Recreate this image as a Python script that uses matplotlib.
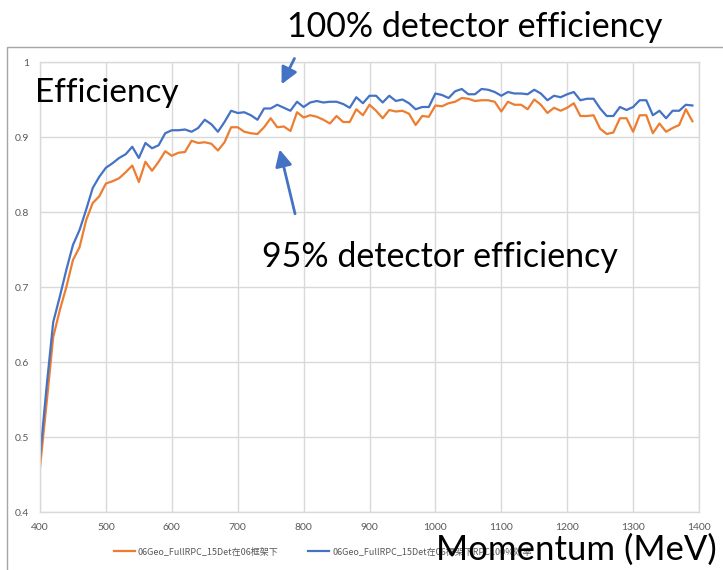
import matplotlib

matplotlib.use("Agg")
import matplotlib.pyplot as plt
import numpy as np
from matplotlib.lines import Line2D
from matplotlib.patches import Rectangle

W, H = 723, 570

momentum = np.arange(400, 1400, 10)

eff_100 = [
    0.473, 0.567, 0.653, 0.687, 0.723, 0.756, 0.776, 0.803, 0.832, 0.847,
    0.859, 0.865, 0.872, 0.877, 0.887, 0.872, 0.892, 0.885, 0.889, 0.905,
    0.909, 0.909, 0.910, 0.907, 0.912, 0.923, 0.917, 0.907, 0.920, 0.935,
    0.932, 0.933, 0.929, 0.923, 0.938, 0.938, 0.943, 0.939, 0.935, 0.947,
    0.940, 0.946, 0.948, 0.946, 0.947, 0.947, 0.944, 0.939, 0.953, 0.945,
    0.955, 0.955, 0.946, 0.955, 0.948, 0.950, 0.945, 0.937, 0.940, 0.940,
    0.958, 0.956, 0.952, 0.961, 0.964, 0.957, 0.957, 0.964, 0.963, 0.960,
    0.955, 0.960, 0.958, 0.958, 0.957, 0.963, 0.958, 0.949, 0.955, 0.953,
    0.957, 0.960, 0.949, 0.951, 0.951, 0.938, 0.928, 0.928, 0.940, 0.936,
    0.940, 0.949, 0.949, 0.929, 0.935, 0.925, 0.935, 0.935, 0.943, 0.942,
]

eff_95 = [
    0.459, 0.545, 0.633, 0.669, 0.700, 0.736, 0.753, 0.789, 0.812, 0.821,
    0.838, 0.841, 0.845, 0.853, 0.862, 0.840, 0.867, 0.855, 0.867, 0.881,
    0.875, 0.879, 0.880, 0.895, 0.892, 0.893, 0.891, 0.882, 0.893, 0.913,
    0.913, 0.907, 0.905, 0.904, 0.913, 0.925, 0.913, 0.914, 0.908, 0.933,
    0.926, 0.929, 0.927, 0.923, 0.918, 0.928, 0.920, 0.920, 0.937, 0.929,
    0.943, 0.935, 0.925, 0.936, 0.934, 0.935, 0.931, 0.916, 0.928, 0.927,
    0.942, 0.941, 0.945, 0.947, 0.952, 0.951, 0.948, 0.949, 0.949, 0.947,
    0.934, 0.947, 0.943, 0.943, 0.937, 0.950, 0.943, 0.932, 0.939, 0.935,
    0.939, 0.945, 0.928, 0.928, 0.929, 0.911, 0.904, 0.906, 0.925, 0.925,
    0.907, 0.929, 0.929, 0.905, 0.918, 0.907, 0.912, 0.916, 0.937, 0.921,
]

label_95 = "06Geo_FullRPC_15Det在06框架下"
label_100 = "06Geo_FullRPC_15Det在06框架下RPC100%效率"

ORANGE = "#ED7D31"
BLUE = "#4472C4"
GRID = "#D9D9D9"
TICK = "#595959"
BIG_FONT = ["Lato", "DejaVu Sans"]
CJK_FONT = ["Noto Sans CJK SC", "DejaVu Sans"]


def fx(px):
    return px / W


def fy(py):
    return 1 - py / H


fig = plt.figure(figsize=(W / 100, H / 100), dpi=100)
fig.patch.set_facecolor("white")

# chart area border (runs off the right/bottom edge like the screenshot)
fig.add_artist(Rectangle((fx(7), fy(600)), fx(760), fy(47) - fy(600),
                         transform=fig.transFigure, fill=False,
                         edgecolor="#A6A6A6", lw=1, zorder=0))

ax = fig.add_axes([fx(40), fy(512), fx(699) - fx(40), fy(62) - fy(512)])
ax.plot(momentum, eff_95, color=ORANGE, lw=1.6, solid_joinstyle="round")
ax.plot(momentum, eff_100, color=BLUE, lw=1.6, solid_joinstyle="round")

ax.set_xlim(400, 1400)
ax.set_ylim(0.4, 1.0)
ax.set_xticks(np.arange(400, 1401, 100))
ax.set_yticks(np.arange(0.4, 1.01, 0.1))
ax.set_yticklabels([f"{v:g}" for v in np.round(np.arange(0.4, 1.01, 0.1), 1)])
ax.grid(True, color=GRID, lw=1)
ax.set_axisbelow(True)
for sp in ax.spines.values():
    sp.set_color(GRID)
    sp.set_linewidth(1)
ax.tick_params(length=0, colors=TICK, labelsize=7.5)
ax.tick_params(axis="x", pad=8)
ax.tick_params(axis="y", pad=8)
for lab in ax.get_xticklabels() + ax.get_yticklabels():
    lab.set_family(["Lato", "DejaVu Sans"])

# arrows pointing at the two curves
arrow_kw = dict(arrowstyle="-|>,head_length=1.0,head_width=0.5", color=BLUE, lw=2)
ax.annotate("", xy=(764.7, 0.967), xytext=(788, 1.008), arrowprops=arrow_kw,
            annotation_clip=False)
ax.annotate("", xy=(762.6, 0.887), xytext=(788, 0.794), arrowprops=arrow_kw,
            annotation_clip=False)

# legend
handles = [Line2D([], [], color=ORANGE, lw=1.6), Line2D([], [], color=BLUE, lw=1.6)]
fig.legend(handles, [label_95, label_100], loc="center left",
           bbox_to_anchor=(fx(114), fy(552)), ncol=2, frameon=False,
           prop={"family": CJK_FONT, "size": 6.5}, labelcolor=TICK,
           handlelength=2.3, handletextpad=0.35, columnspacing=3.3,
           borderpad=0, borderaxespad=0)

fig.text(fx(35), fy(101.7), "Efficiency", family=BIG_FONT, fontsize=24,
         va="baseline", ha="left", zorder=10)
fig.text(fx(475), fy(37), "100% detector efficiency", family=BIG_FONT,
         fontsize=24.5, va="baseline", ha="center", zorder=10)
fig.text(fx(440), fy(267.3), "95% detector efficiency", family=BIG_FONT,
         fontsize=24.5, va="baseline", ha="center", zorder=10)
fig.text(fx(717), fy(560), "Momentum (MeV)", family=BIG_FONT, fontsize=25,
         va="baseline", ha="right", zorder=10)

fig.savefig("out.png", dpi=100)
